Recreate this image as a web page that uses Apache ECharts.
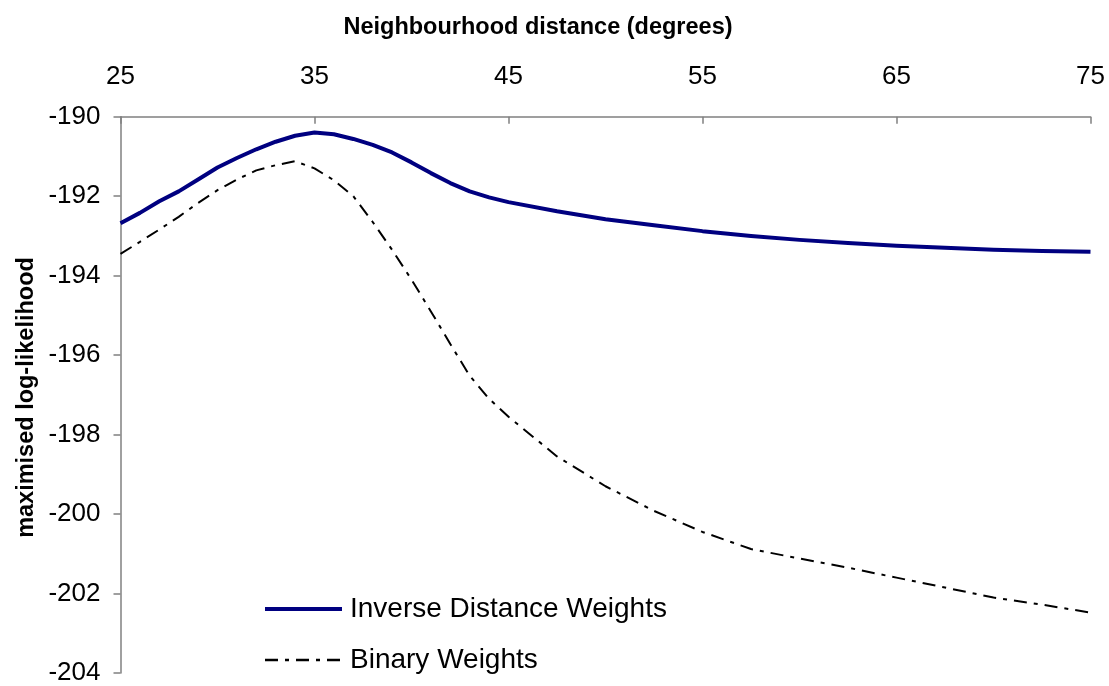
<!DOCTYPE html>
<html>
<head>
<meta charset="utf-8">
<script src="https://cdn.jsdelivr.net/npm/echarts@6/dist/echarts.min.js"></script>
<style>
  html, body { margin: 0; padding: 0; background: #ffffff; }
  #chart { width: 1109px; height: 686px; }
</style>
</head>
<body>
<div id="chart"></div>
<script>
// Neighbourhood distance in degrees
const distances = [25, 26, 27, 28, 29, 30, 31, 32, 33, 34, 35, 36, 37, 38, 39, 40,
  41, 42, 43, 44, 45, 47.5, 50, 52.5, 55, 57.5, 60, 62.5, 65, 67.5, 70, 72.5, 75];

// Maximised log-likelihood, inverse distance weights
const inverseDistance = [-192.68, -192.42, -192.13, -191.88, -191.58, -191.28, -191.04, -190.82,
  -190.63, -190.48, -190.40, -190.44, -190.56, -190.71, -190.90, -191.15,
  -191.42, -191.67, -191.88, -192.03, -192.15, -192.38, -192.58, -192.73,
  -192.88, -193.00, -193.10, -193.18, -193.25, -193.30, -193.35, -193.38, -193.40];

// Maximised log-likelihood, binary weights
const binaryWeights = [-193.45, -193.15, -192.84, -192.52, -192.17, -191.85, -191.58, -191.35,
  -191.22, -191.12, -191.30, -191.60, -192.00, -192.65, -193.35, -194.10,
  -194.90, -195.72, -196.52, -197.10, -197.55, -198.55, -199.30, -199.92,
  -200.45, -200.88, -201.12, -201.35, -201.60, -201.85, -202.10, -202.28, -202.48];

const seriesNames = ['Inverse Distance Weights', 'Binary Weights'];
const xTitle = 'Neighbourhood distance (degrees)';
const yTitle = 'maximised log-likelihood';

const FONT = "'Liberation Sans', Arial, sans-serif";
const AXIS_GREY = '#808080';
const BLUE = '#000080';
const BINARY_DASH = [13, 7, 4, 7];

const chart = echarts.init(document.getElementById('chart'), null, { renderer: 'canvas' });

const titleStyle = {
  fontFamily: FONT,
  fontSize: 23.5,
  fontWeight: 'bold',
  fill: '#000000',
  align: 'center',
  verticalAlign: 'middle'
};

chart.setOption({
  animation: false,
  backgroundColor: '#ffffff',
  grid: { left: 120.5, right: 18.5, top: 116.7, bottom: 8, containLabel: false },
  graphic: [
    { type: 'text', x: 538, y: 28, style: Object.assign({ text: xTitle }, titleStyle) },
    { type: 'text', x: 27, y: 397.5, rotation: Math.PI / 2, style: Object.assign({ text: yTitle }, titleStyle) }
  ],
  legend: {
    left: 263,
    top: 595,
    padding: 0,
    orient: 'vertical',
    itemWidth: 77,
    itemHeight: 14,
    itemGap: 23,
    itemStyle: { opacity: 0 },
    textStyle: { fontFamily: FONT, fontSize: 28, color: '#000000', padding: [0, 0, 0, 3] },
    data: [
      { name: seriesNames[0], lineStyle: { color: BLUE, width: 4 } },
      { name: seriesNames[1], lineStyle: { color: '#000000', width: 2.5, type: BINARY_DASH } }
    ]
  },
  xAxis: {
    type: 'value',
    position: 'top',
    min: 25,
    max: 75,
    interval: 10,
    axisLine: { show: true, lineStyle: { color: AXIS_GREY, width: 1.5 } },
    axisTick: { show: true, inside: true, length: 7, lineStyle: { color: AXIS_GREY, width: 1.5 } },
    axisLabel: { fontFamily: FONT, fontSize: 26, color: '#000000', margin: 27 },
    splitLine: { show: false }
  },
  yAxis: {
    type: 'value',
    min: -204,
    max: -190,
    interval: 2,
    axisLine: { show: true, lineStyle: { color: AXIS_GREY, width: 1.5 } },
    axisTick: { show: true, inside: false, length: 7, lineStyle: { color: AXIS_GREY, width: 1.5 } },
    axisLabel: { fontFamily: FONT, fontSize: 26, color: '#000000', margin: 20 },
    splitLine: { show: false }
  },
  series: [
    {
      name: seriesNames[0],
      type: 'line',
      symbol: 'none',
      data: distances.map((d, i) => [d, inverseDistance[i]]),
      lineStyle: { color: BLUE, width: 4, join: 'round' },
      itemStyle: { color: BLUE }
    },
    {
      name: seriesNames[1],
      type: 'line',
      symbol: 'none',
      data: distances.map((d, i) => [d, binaryWeights[i]]),
      lineStyle: { color: '#000000', width: 2, type: BINARY_DASH },
      itemStyle: { color: '#000000' }
    }
  ]
});
</script>
</body>
</html>
